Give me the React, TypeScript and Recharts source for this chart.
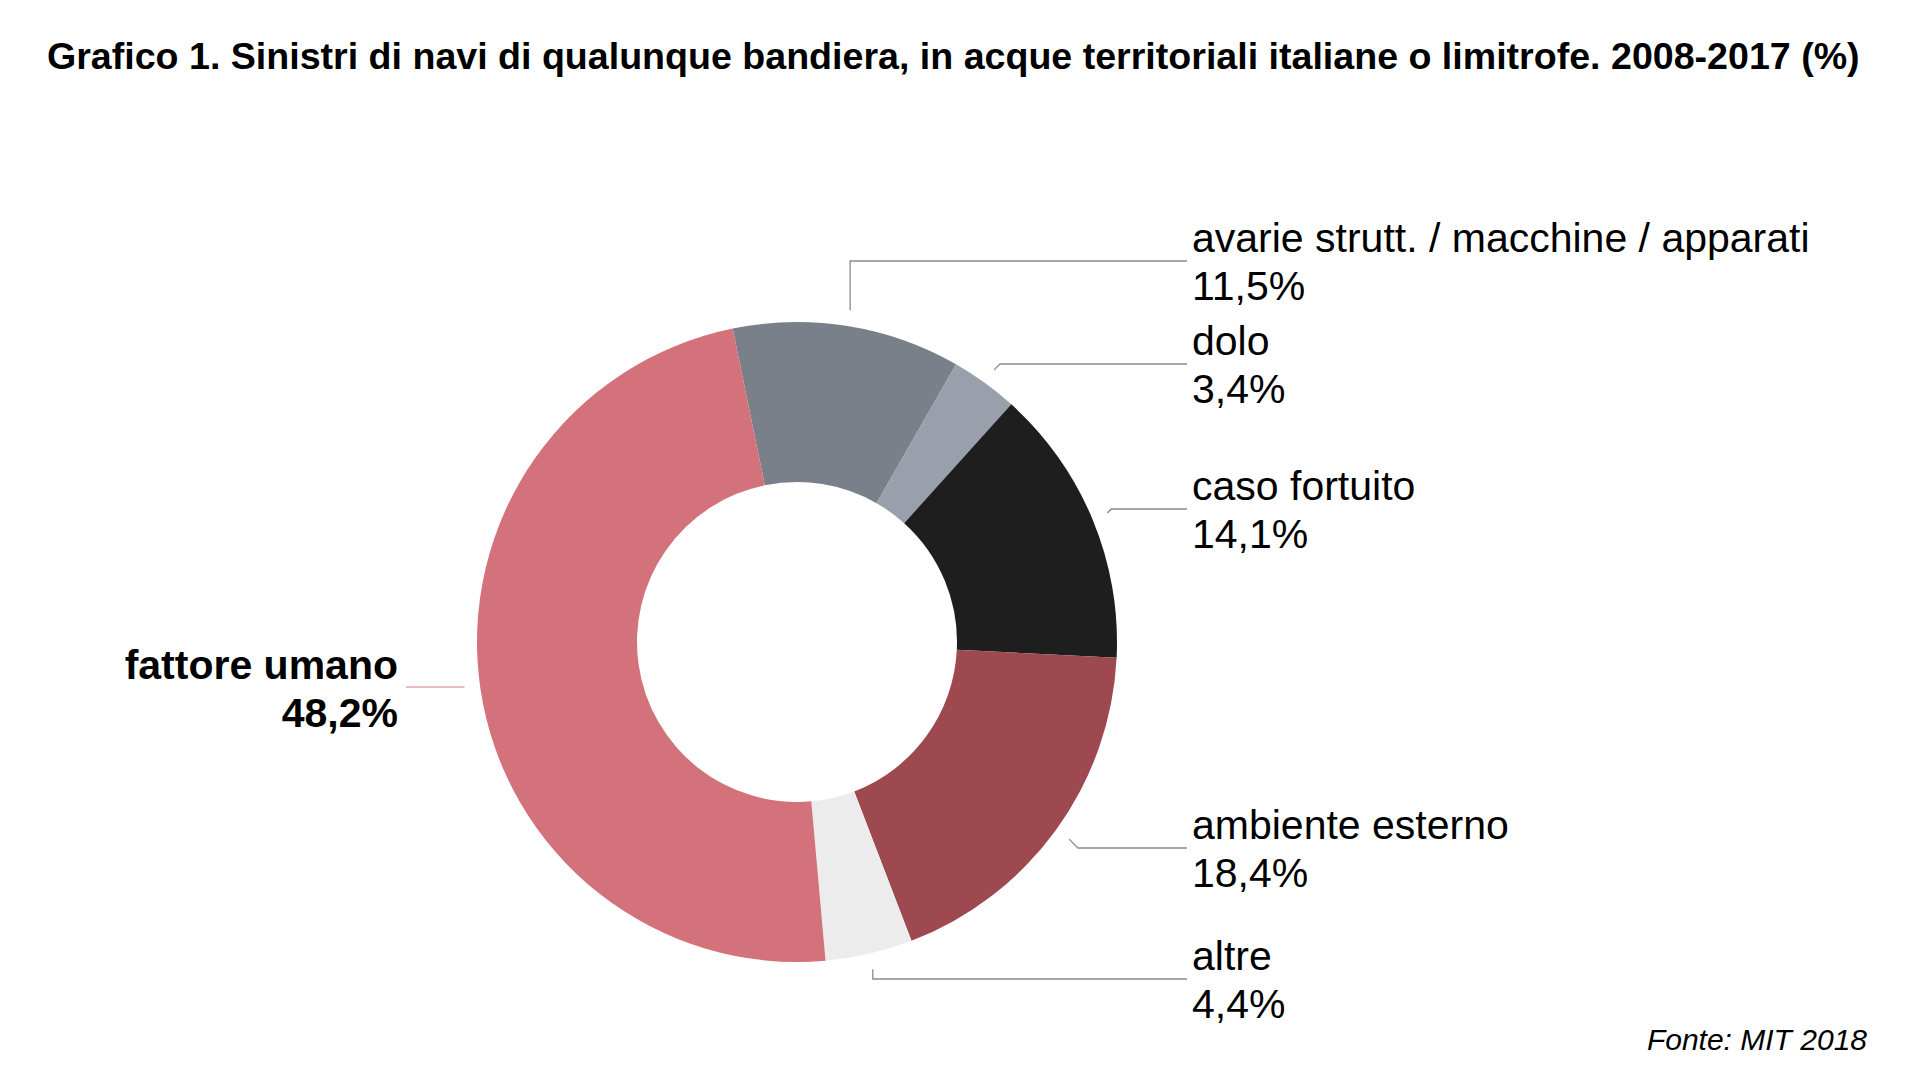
import React from 'react';
import { PieChart, Pie, Cell } from 'recharts';

// ---- data ----
const CATEGORIES = [
  'avarie strutt. / macchine / apparati',
  'dolo',
  'caso fortuito',
  'ambiente esterno',
  'altre',
  'fattore umano',
];
const VALUES = [11.5, 3.4, 14.1, 18.4, 4.4, 48.2];
const COLORS = ['#7A8089', '#9AA0AB', '#1E1E1E', '#9E4850', '#ECECEC', '#D3727B'];
const TITLE = 'Grafico 1. Sinistri di navi di qualunque bandiera, in acque territoriali italiane o limitrofe. 2008-2017 (%)';
const SOURCE = 'Fonte: MIT 2018';

// ---- layout (not data) ----
const W = 1920;
const H = 1080;
const CX = 797;
const CY = 642;
const OUTER = 320;
const INNER = 160;
const START = 101.6;
const FONT = '"Liberation Sans", Arial, Helvetica, sans-serif';
const LEADER_GAP = 16;
const RIGHT_LINE_END = 1187;
const RIGHT_TEXT_X = 1192;
const LEFT_LINE_END = 406;
const LEFT_TEXT_X = 398;
// per-slice leader layout: y of horizontal leader, bend type, side
const LABEL_LAYOUT = [
  { lineY: 261, bend: 'v', side: 'right' },
  { lineY: 364, bend: 'd', side: 'right' },
  { lineY: 509, bend: 'd', side: 'right' },
  { lineY: 848, bend: 'd', side: 'right' },
  { lineY: 979, bend: 'v', side: 'right' },
  { lineY: 687, bend: 'h', side: 'left' },
];

const data = CATEGORIES.map((name, i) => ({ name, value: VALUES[i] }));
const fmt = (v: number) => v.toFixed(1).replace('.', ',') + '%';
const RAD = Math.PI / 180;

function renderLabel(props: any) {
  const { cx, cy, midAngle, outerRadius, index, value, name } = props;
  const lay = LABEL_LAYOUT[index];
  const r = outerRadius + LEADER_GAP;
  const px = cx + r * Math.cos(-midAngle * RAD);
  const py = cy + r * Math.sin(-midAngle * RAD);
  const ly = lay.lineY;
  if (lay.side === 'left') {
    return (
      <g key={`lbl-${index}`}>
        <line x1={px} y1={ly} x2={LEFT_LINE_END} y2={ly} stroke="#E2A6AB" strokeWidth={1.3} />
        <text x={LEFT_TEXT_X} y={ly - 8} textAnchor="end" fontFamily={FONT} fontWeight="bold" fontSize={41} fill="#000">
          {name}
        </text>
        <text x={LEFT_TEXT_X} y={ly + 40} textAnchor="end" fontFamily={FONT} fontWeight="bold" fontSize={41} fill="#000">
          {fmt(value)}
        </text>
      </g>
    );
  }
  const bx = lay.bend === 'v' ? px : px + Math.abs(ly - py);
  const pts = `${px},${py} ${bx},${ly} ${RIGHT_LINE_END},${ly}`;
  return (
    <g key={`lbl-${index}`}>
      <polyline points={pts} fill="none" stroke="#8A8A8A" strokeWidth={1.3} />
      <text x={RIGHT_TEXT_X} y={ly - 9} fontFamily={FONT} fontSize={41} fill="#000">
        {name}
      </text>
      <text x={RIGHT_TEXT_X} y={ly + 39} fontFamily={FONT} fontSize={41} fill="#000">
        {fmt(value)}
      </text>
    </g>
  );
}

export default function App() {
  return (
    <div style={{ position: 'absolute', left: 0, top: 0, width: W, height: H, background: '#fff', overflow: 'hidden' }}>
      <div
        style={{
          position: 'absolute',
          left: 47,
          top: 36,
          fontFamily: FONT,
          fontWeight: 'bold',
          fontSize: 37.6,
          lineHeight: '40px',
          color: '#000',
          whiteSpace: 'nowrap',
        }}
      >
        {TITLE}
      </div>
      <div style={{ position: 'absolute', left: 0, top: 0 }}>
        <PieChart width={W} height={H} margin={{ top: 0, right: 0, bottom: 0, left: 0 }}>
          <Pie
            data={data}
            dataKey="value"
            nameKey="name"
            cx={CX}
            cy={CY}
            outerRadius={OUTER}
            innerRadius={INNER}
            startAngle={START}
            endAngle={START - 360}
            stroke="none"
            isAnimationActive={false}
            label={renderLabel}
            labelLine={false}
          >
            {data.map((d, i) => (
              <Cell key={d.name} fill={COLORS[i]} />
            ))}
          </Pie>
        </PieChart>
      </div>
      <div
        style={{
          position: 'absolute',
          right: 53,
          top: 1023,
          fontFamily: FONT,
          fontStyle: 'italic',
          fontSize: 30,
          lineHeight: '34px',
          color: '#000',
          whiteSpace: 'nowrap',
        }}
      >
        {SOURCE}
      </div>
    </div>
  );
}
